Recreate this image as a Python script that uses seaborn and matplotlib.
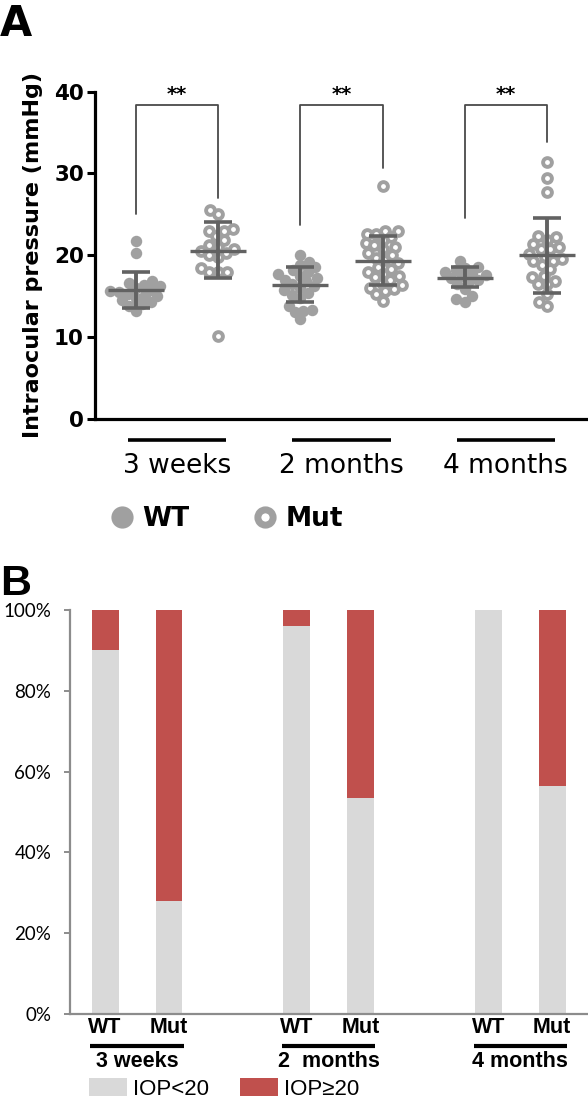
import numpy as np
import pandas as pd
import matplotlib
matplotlib.use("Agg")
import matplotlib.pyplot as plt
import matplotlib.ticker as mticker
from matplotlib.lines import Line2D
from matplotlib.patches import Patch
import seaborn as sns

# ---------------- data ----------------
groups = ["3 weeks", "2 months", "4 months"]
genotypes = ["WT", "Mut"]

iop_wt_3w = [21.7, 20.3, 16.9, 16.6, 16.4, 16.2, 16.0, 15.8, 15.6, 15.5, 15.3,
             15.1, 15.0, 14.8, 14.5, 14.3, 14.0, 13.8, 13.2]
iop_mut_3w = [25.5, 25.0, 23.2, 22.9, 22.9, 22.3, 21.8, 21.3, 21.0, 20.8, 20.5,
              20.3, 20.0, 19.8, 18.4, 17.9, 17.9, 17.9, 10.1]
iop_wt_2m = [20.0, 19.2, 18.8, 18.5, 18.2, 18.0, 17.7, 17.5, 17.2, 17.0, 16.8,
             16.5, 16.2, 16.0, 15.7, 15.4, 15.1, 14.8, 13.8, 13.3, 13.2, 13.0, 12.2]
iop_mut_2m = [28.5, 23.0, 22.9, 22.6, 22.6, 22.2, 21.8, 21.5, 21.2, 21.0, 20.7,
              20.3, 20.0, 19.7, 19.4, 19.0, 18.6, 18.3, 18.0, 17.7, 17.4, 17.3,
              17.0, 16.6, 16.3, 16.0, 15.9, 15.6, 15.2, 14.4]
iop_wt_4m = [19.3, 18.6, 18.4, 18.2, 18.0, 17.8, 17.6, 17.4, 17.2, 17.0, 16.8,
             16.5, 15.9, 15.0, 14.7, 14.3]
iop_mut_4m = [31.4, 29.5, 27.7, 22.3, 22.2, 21.9, 21.4, 21.0, 20.8, 20.7, 20.2,
              19.8, 19.5, 19.3, 19.3, 18.8, 18.3, 17.5, 17.3, 16.9, 16.5, 16.5,
              15.3, 14.3, 13.8]

# mean and SD bars (slot order: WT 3w, Mut 3w, WT 2m, Mut 2m, WT 4m, Mut 4m)
mean_iop = [15.7, 20.5, 16.4, 19.3, 17.2, 20.0]
sd_low = [13.6, 17.2, 14.3, 16.4, 16.1, 15.4]
sd_high = [17.9, 24.1, 18.6, 22.3, 18.5, 24.5]

# significance brackets
bracket_top = [38.4, 38.4, 38.4]
bracket_left_end = [25.0, 23.7, 24.6]
bracket_right_end = [27.0, 30.7, 33.8]
sig_labels = ["**", "**", "**"]

# panel B: percentage of eyes with IOP<20
pct_below20 = [90.0, 28.0, 96.0, 53.5, 100.0, 56.4]
pct_total = [100, 100, 100, 100, 100, 100]
group_labels_b = ["3 weeks", "2  months", "4 months"]
legend_b = ["IOP<20", "IOP\u226520"]

# ---------------- style ----------------
sns.set_style("ticks")
plt.rcParams["font.family"] = ["DejaVu Sans"]
for k in ["text.color", "axes.labelcolor", "xtick.color", "ytick.color"]:
    plt.rcParams[k] = "black"

POINT = "#a0a0a0"
BAR = "#626262"
LIGHT = "#d9d9d9"
RED = "#c0504d"

W, H = 588, 1099
fig = plt.figure(figsize=(W / 100, H / 100), dpi=100)

def fx(px):
    return px / W

def fy(py):
    return 1 - py / H

# ---------------- panel A ----------------
axA = fig.add_axes([fx(95), fy(418.7), fx(588) - fx(95), fy(91.7) - fy(418.7)])

slots = [f"{g} {k}" for g in groups for k in genotypes]
series = [iop_wt_3w, iop_mut_3w, iop_wt_2m, iop_mut_2m, iop_wt_4m, iop_mut_4m]
rows = []
for slot, vals in zip(slots, series):
    for v in vals:
        rows.append({"slot": slot, "iop": v, "genotype": slot.split()[-1]})
df = pd.DataFrame(rows)

axA.set_xlim(-0.5, 5.5)
axA.set_ylim(0, 40)

n0 = len(axA.collections)
sns.swarmplot(data=df[df.genotype == "WT"], x="slot", y="iop", order=slots,
              color=POINT, size=6.2, linewidth=0, ax=axA, warn_thresh=1)
n1 = len(axA.collections)
sns.swarmplot(data=df[df.genotype == "Mut"], x="slot", y="iop", order=slots,
              color=POINT, size=6.3, linewidth=0, ax=axA, warn_thresh=1)
n2 = len(axA.collections)
axA.set_xlim(-0.5, 5.5)
axA.set_ylim(0, 40)

fig.canvas.draw()  # compute the swarm positions
for i, coll in enumerate(axA.collections[n0:n2]):
    if "draw" in coll.__dict__:
        del coll.draw
    if i < n1 - n0:
        coll.set_sizes([68])
        coll.set_facecolor(POINT)
        coll.set_edgecolor(POINT)
        coll.set_linewidth(0)
    else:
        coll.set_sizes([40])
        coll.set_facecolor("white")
        coll.set_edgecolor(POINT)
        coll.set_linewidth(2.8)
    coll.set_zorder(2)

xs = np.arange(len(slots))
axA.vlines(xs, sd_low, sd_high, color=BAR, lw=2.8, zorder=4)
axA.hlines(sd_low, xs - 0.17, xs + 0.17, color=BAR, lw=2.6, zorder=4)
axA.hlines(sd_high, xs - 0.17, xs + 0.17, color=BAR, lw=2.6, zorder=4)
axA.hlines(mean_iop, xs - 0.34, xs + 0.34, color=BAR, lw=2.4, zorder=4)

for g in range(3):
    xl, xr = 2 * g, 2 * g + 1
    axA.plot([xl, xl, xr, xr],
             [bracket_left_end[g], bracket_top[g], bracket_top[g], bracket_right_end[g]],
             color="#4a4a4a", lw=1.3, clip_on=False, zorder=3)
    axA.text((xl + xr) / 2, bracket_top[g] + 0.15, sig_labels[g], ha="center",
             va="bottom", fontsize=14, fontweight="bold", color="black")

axA.set_xticks([])
axA.set_xlabel("")
axA.set_yticks([0, 10, 20, 30, 40])
axA.tick_params(axis="y", length=6, width=2.2, pad=2, labelsize=15.5, color="black")
for lab in axA.get_yticklabels():
    lab.set_fontweight("bold")
axA.set_ylabel("Intraocular pressure (mmHg)", fontsize=16, fontweight="bold")
axA.yaxis.set_label_coords(-0.105, 0.5)
for s in ["top", "right"]:
    axA.spines[s].set_visible(False)
for s in ["left", "bottom"]:
    axA.spines[s].set_linewidth(2.3)
    axA.spines[s].set_color("black")

tA = axA.get_xaxis_transform()
for g, name in enumerate(groups):
    c = 2 * g + 0.5
    axA.plot([c - 0.6, c + 0.6], [-0.066, -0.066], transform=tA, color="black",
             lw=2.6, clip_on=False, solid_capstyle="butt")
    axA.text(c, -0.145, name, transform=tA, ha="center", va="center", fontsize=19)

hA = [Line2D([], [], ls="", marker="o", ms=16, mfc=POINT, mec=POINT, mew=0),
      Line2D([], [], ls="", marker="o", ms=11, mfc="white", mec=POINT, mew=5)]
fig.legend(hA, genotypes, loc="center left", bbox_to_anchor=(fx(108.8), fy(519)),
           frameon=False, ncol=2, borderpad=0, borderaxespad=0, handlelength=1.0,
           handletextpad=0.25, columnspacing=2.4,
           prop={"size": 19, "weight": "bold"})

fig.text(fx(0), fy(36), "A", fontsize=30, fontweight="bold", va="baseline", ha="left")

# ---------------- panel B ----------------
axB = fig.add_axes([fx(70), fy(1014), fx(588) - fx(70), fy(610) - fy(1014)])
xb = [g * 3 + k for g in range(3) for k in range(2)]
sns.barplot(x=xb, y=pct_total, native_scale=True, orient="x", color=RED,
            saturation=1, width=0.42, errorbar=None, ax=axB, linewidth=0)
sns.barplot(x=xb, y=pct_below20, native_scale=True, orient="x", color=LIGHT,
            saturation=1, width=0.42, errorbar=None, ax=axB, linewidth=0)
axB.set_xlim(-0.55, 7.56)
axB.set_ylim(0, 100)
axB.set_yticks([0, 20, 40, 60, 80, 100])
axB.yaxis.set_major_formatter(mticker.FuncFormatter(lambda v, p: f"{v:.0f}%"))
axB.set_xticks([])
axB.set_xlabel("")
axB.set_ylabel("")
axB.tick_params(axis="y", length=4.5, width=1.4, color="#8c8c8c", pad=9,
                labelsize=13.5)
for lab in axB.get_yticklabels():
    lab.set_fontfamily(["Lato", "DejaVu Sans"])
for s in ["top", "right"]:
    axB.spines[s].set_visible(False)
for s in ["left", "bottom"]:
    axB.spines[s].set_linewidth(1.6)
    axB.spines[s].set_color("#8c8c8c")

tB = axB.get_xaxis_transform()
LIB = ["Liberation Sans", "DejaVu Sans"]
for i, x in enumerate(xb):
    axB.text(x, -0.034, genotypes[i % 2], transform=tB, ha="center", va="center",
             fontsize=15.5, fontweight="bold", family=LIB)
for g, name in enumerate(group_labels_b):
    x0, x1 = xb[2 * g], xb[2 * g + 1]
    axB.plot([x0 - 0.23, x1 + 0.23], [-0.078, -0.078], transform=tB, color="black",
             lw=3.0, clip_on=False, solid_capstyle="butt")
    axB.text((x0 + x1) / 2, -0.118, name, transform=tB, ha="center", va="center",
             fontsize=15.5, fontweight="bold", family=LIB)

hB = [Patch(facecolor=LIGHT, edgecolor="none"), Patch(facecolor=RED, edgecolor="none")]
fig.legend(hB, legend_b, loc="center left", bbox_to_anchor=(fx(89), fy(1089)),
           frameon=False, ncol=2, borderpad=0, borderaxespad=0, handlelength=1.71,
           handleheight=0.85, handletextpad=0.27, columnspacing=1.4,
           prop={"size": 16, "family": LIB})

fig.text(fx(0), fy(595), "B", fontsize=31, fontweight="bold", va="baseline", ha="left",
         family=LIB)

fig.savefig("out.png", dpi=100)
